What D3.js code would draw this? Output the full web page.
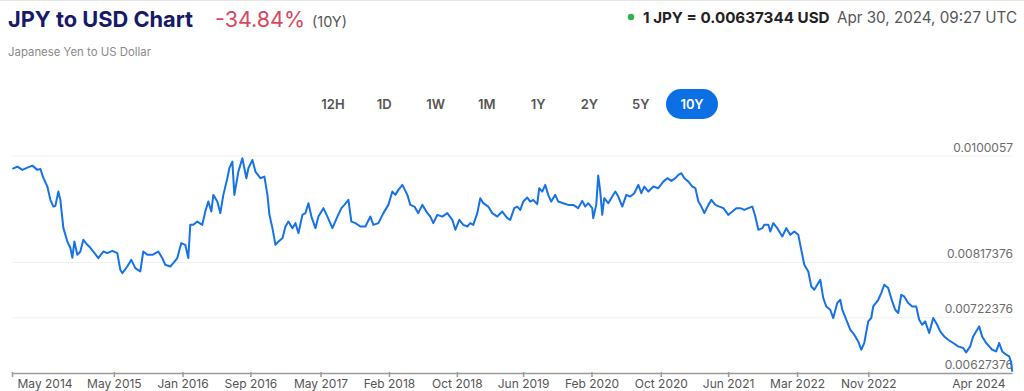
<!DOCTYPE html>
<html>
<head>
<meta charset="utf-8">
<script src="https://cdn.jsdelivr.net/npm/d3@7"></script>
<style>
  body { margin: 0; background: #fff; }
  svg { display: block; font-family: Inter, "Noto Sans", sans-serif; }
  .ylab { fill: #6b6b6b; font-size: 12px; }
  .xaxis text { fill: #555; font-size: 12px; font-family: Inter, "Noto Sans", sans-serif; }
  .xaxis path, .xaxis line { stroke: #9a9a9a; stroke-width: 1.5; }
</style>
</head>
<body>
<div id="chart"></div>
<script>
// JPY -> USD, 10 years (time as decimal year)
var years = [
  2014.33, 2014.38, 2014.43, 2014.48, 2014.53, 2014.58, 2014.61, 2014.64, 2014.68, 2014.71,
  2014.74, 2014.76, 2014.79, 2014.81, 2014.84, 2014.88, 2014.91, 2014.93, 2014.95, 2014.98,
  2015.01, 2015.04, 2015.08, 2015.11, 2015.14, 2015.19, 2015.24, 2015.28, 2015.33, 2015.38,
  2015.41, 2015.43, 2015.48, 2015.52, 2015.56, 2015.61, 2015.64, 2015.68, 2015.73, 2015.79,
  2015.83, 2015.86, 2015.91, 2015.94, 2015.98, 2016.02, 2016.06, 2016.09, 2016.11, 2016.14,
  2016.18, 2016.23, 2016.26, 2016.29, 2016.32, 2016.34, 2016.38, 2016.41, 2016.44, 2016.48,
  2016.50, 2016.53, 2016.55, 2016.59, 2016.63, 2016.67, 2016.69, 2016.73, 2016.76, 2016.81,
  2016.85, 2016.88, 2016.90, 2016.93, 2016.96, 2016.99, 2017.03, 2017.06, 2017.09, 2017.13,
  2017.16, 2017.19, 2017.23, 2017.26, 2017.29, 2017.32, 2017.36, 2017.39, 2017.44, 2017.48,
  2017.53, 2017.58, 2017.62, 2017.65, 2017.69, 2017.72, 2017.76, 2017.81, 2017.86, 2017.91,
  2017.94, 2017.99, 2018.04, 2018.09, 2018.13, 2018.16, 2018.19, 2018.23, 2018.28, 2018.31,
  2018.35, 2018.39, 2018.43, 2018.47, 2018.51, 2018.54, 2018.58, 2018.63, 2018.68, 2018.73,
  2018.76, 2018.80, 2018.84, 2018.88, 2018.91, 2018.94, 2018.98, 2019.01, 2019.04, 2019.09,
  2019.13, 2019.18, 2019.23, 2019.28, 2019.31, 2019.35, 2019.38, 2019.41, 2019.44, 2019.48,
  2019.51, 2019.54, 2019.58, 2019.60, 2019.63, 2019.66, 2019.69, 2019.72, 2019.76, 2019.79,
  2019.84, 2019.89, 2019.94, 2019.99, 2020.03, 2020.06, 2020.09, 2020.13, 2020.14, 2020.17,
  2020.19, 2020.21, 2020.23, 2020.25, 2020.29, 2020.33, 2020.36, 2020.39, 2020.43, 2020.47,
  2020.51, 2020.55, 2020.59, 2020.62, 2020.65, 2020.69, 2020.74, 2020.79, 2020.84, 2020.88,
  2020.92, 2020.96, 2020.99, 2021.02, 2021.05, 2021.09, 2021.13, 2021.16, 2021.19, 2021.22,
  2021.25, 2021.29, 2021.32, 2021.36, 2021.40, 2021.44, 2021.49, 2021.53, 2021.57, 2021.61,
  2021.65, 2021.69, 2021.73, 2021.76, 2021.79, 2021.83, 2021.85, 2021.89, 2021.91, 2021.94,
  2021.98, 2022.03, 2022.07, 2022.11, 2022.15, 2022.19, 2022.22, 2022.25, 2022.29, 2022.32,
  2022.35, 2022.38, 2022.41, 2022.44, 2022.47, 2022.51, 2022.54, 2022.58, 2022.61, 2022.63,
  2022.67, 2022.71, 2022.75, 2022.79, 2022.82, 2022.85, 2022.89, 2022.92, 2022.94, 2022.99,
  2023.02, 2023.05, 2023.09, 2023.13, 2023.16, 2023.19, 2023.22, 2023.25, 2023.29, 2023.33,
  2023.37, 2023.40, 2023.43, 2023.46, 2023.50, 2023.54, 2023.58, 2023.61, 2023.65, 2023.69,
  2023.74, 2023.79, 2023.84, 2023.87, 2023.91, 2023.94, 2023.98, 2024.00, 2024.03, 2024.07,
  2024.10, 2024.13, 2024.17, 2024.20, 2024.23, 2024.27, 2024.30, 2024.32, 2024.33
];

var rates = [
  0.009784, 0.009823, 0.009767, 0.009806, 0.009840, 0.009767, 0.009784, 0.009629, 0.009480, 0.009251,
  0.009136, 0.009148, 0.009394, 0.009251, 0.008770, 0.008535, 0.008427, 0.008255, 0.008535, 0.008306,
  0.008363, 0.008564, 0.008478, 0.008427, 0.008363, 0.008250, 0.008363, 0.008336, 0.008375, 0.008336,
  0.008049, 0.007992, 0.008105, 0.008220, 0.008078, 0.008019, 0.008363, 0.008306, 0.008306, 0.008363,
  0.008250, 0.008135, 0.008105, 0.008164, 0.008250, 0.008507, 0.008478, 0.008250, 0.008822, 0.008822,
  0.008878, 0.008822, 0.009050, 0.009222, 0.009050, 0.009337, 0.009222, 0.009023, 0.009337, 0.009624,
  0.009796, 0.009909, 0.009337, 0.009737, 0.009968, 0.009624, 0.009796, 0.009938, 0.009737, 0.009624,
  0.009651, 0.009337, 0.008994, 0.008765, 0.008478, 0.008535, 0.008593, 0.008793, 0.008878, 0.008765,
  0.008851, 0.008679, 0.008994, 0.009023, 0.009194, 0.008964, 0.008765, 0.008964, 0.009109, 0.008964,
  0.008765, 0.008964, 0.009109, 0.009165, 0.009251, 0.008878, 0.008851, 0.008793, 0.008793, 0.008964,
  0.008822, 0.008851, 0.009023, 0.009165, 0.009394, 0.009337, 0.009423, 0.009509, 0.009337, 0.009165,
  0.009136, 0.009023, 0.009165, 0.009050, 0.008964, 0.008851, 0.008994, 0.008964, 0.009023, 0.008908,
  0.008736, 0.008908, 0.008822, 0.008793, 0.008851, 0.008822, 0.009023, 0.009280, 0.009194, 0.009136,
  0.009023, 0.008964, 0.009050, 0.008937, 0.008908, 0.009109, 0.009136, 0.009079, 0.009222, 0.009291,
  0.009222, 0.009251, 0.009177, 0.009452, 0.009394, 0.009509, 0.009337, 0.009222, 0.009337, 0.009222,
  0.009194, 0.009165, 0.009165, 0.009109, 0.009234, 0.009136, 0.009194, 0.009109, 0.008937, 0.009165,
  0.009669, 0.009394, 0.008994, 0.009280, 0.009194, 0.009308, 0.009394, 0.009308, 0.009136, 0.009337,
  0.009308, 0.009366, 0.009509, 0.009366, 0.009480, 0.009394, 0.009480, 0.009452, 0.009565, 0.009624,
  0.009578, 0.009624, 0.009681, 0.009710, 0.009624, 0.009565, 0.009480, 0.009452, 0.009222, 0.009136,
  0.009023, 0.009165, 0.009251, 0.009165, 0.009136, 0.009109, 0.008994, 0.009050, 0.009109, 0.009109,
  0.009079, 0.009109, 0.009136, 0.008964, 0.008736, 0.008765, 0.008822, 0.008822, 0.008707, 0.008851,
  0.008765, 0.008621, 0.008765, 0.008650, 0.008707, 0.008650, 0.008392, 0.008135, 0.008019, 0.007762,
  0.007705, 0.007791, 0.007877, 0.007562, 0.007418, 0.007362, 0.007219, 0.007477, 0.007533, 0.007362,
  0.007190, 0.007018, 0.006932, 0.006817, 0.006674, 0.006789, 0.007161, 0.007219, 0.007418, 0.007533,
  0.007648, 0.007791, 0.007734, 0.007504, 0.007362, 0.007305, 0.007619, 0.007590, 0.007477, 0.007418,
  0.007418, 0.007190, 0.007104, 0.007161, 0.006961, 0.007219, 0.007104, 0.006989, 0.006903, 0.006846,
  0.006789, 0.006731, 0.006704, 0.006628, 0.006731, 0.006903, 0.007018, 0.007075, 0.006903, 0.006789,
  0.006731, 0.006674, 0.006645, 0.006789, 0.006645, 0.006588, 0.006559, 0.006446, 0.006296
];

var yTicks = [0.00627376, 0.00722376, 0.00817376, 0.0100057];
var yTickLabels = ["0.00627376", "0.00722376", "0.00817376", "0.0100057"];

var xTickDates = ["2014-04-30", "2015-05-07", "2016-01-13", "2016-09-17", "2017-05-31", "2018-02-05",
  "2018-10-11", "2019-06-10", "2020-02-15", "2020-10-25", "2021-06-28", "2022-03-07", "2022-11-22", "2024-04-30"];
var xTickLabels = ["May 2014", "May 2015", "Jan 2016", "Sep 2016", "May 2017", "Feb 2018",
  "Oct 2018", "Jun 2019", "Feb 2020", "Oct 2020", "Jun 2021", "Mar 2022", "Nov 2022", "Apr 2024"];

var ranges = ["12H", "1D", "1W", "1M", "1Y", "2Y", "5Y", "10Y"];
var activeRange = "10Y";

var svgWidth = 1024;
var svgHeight = 391;

var svg = d3.select("#chart")
    .append("svg")
    .attr("width", svgWidth)
    .attr("height", svgHeight);

// thin top border
svg.append("line")
    .attr("x1", 0).attr("x2", svgWidth)
    .attr("y1", 0.5).attr("y2", 0.5)
    .attr("stroke", "#e6e6e6");

// ---- header ----
svg.append("text")
    .attr("x", 8).attr("y", 27)
    .attr("font-size", 21.8).attr("font-weight", 700)
    .attr("fill", "#17196a")
    .text("JPY to USD Chart");

svg.append("text")
    .attr("x", 215).attr("y", 27)
    .attr("font-size", 21.5)
    .attr("fill", "#d9485f")
    .text("-34.84%");

svg.append("text")
    .attr("x", 312).attr("y", 27)
    .attr("font-size", 14.5)
    .attr("fill", "#555")
    .text("(10Y)");

svg.append("text")
    .attr("x", 8).attr("y", 56)
    .attr("font-size", 11.4)
    .attr("fill", "#8a8a8a")
    .text("Japanese Yen to US Dollar");

svg.append("circle")
    .attr("cx", 631).attr("cy", 17).attr("r", 3.2)
    .attr("fill", "#2eb24a");

svg.append("text")
    .attr("x", 643).attr("y", 23)
    .attr("font-size", 15.2).attr("font-weight", 700)
    .attr("fill", "#222")
    .text("1 JPY = 0.00637344 USD");

svg.append("text")
    .attr("x", 1017).attr("y", 23)
    .attr("text-anchor", "end")
    .attr("font-size", 15.2)
    .attr("fill", "#555")
    .text("Apr 30, 2024, 09:27 UTC");

// ---- range buttons ----
var btnX = d3.scalePoint().domain(ranges).range([333, 692]);

var btns = svg.append("g").selectAll("g")
    .data(ranges)
    .enter()
    .append("g")
    .attr("transform", d => `translate(${btnX(d)}, 104.5)`);

btns.filter(d => d === activeRange)
    .append("rect")
    .attr("x", -26).attr("y", -15.5)
    .attr("width", 52).attr("height", 30)
    .attr("rx", 15)
    .attr("fill", "#0c6fe4");

btns.append("text")
    .attr("text-anchor", "middle")
    .attr("dy", "0.35em")
    .attr("font-size", 13)
    .attr("font-weight", 600)
    .attr("fill", d => d === activeRange ? "#fff" : "#555")
    .text(d => d);

// ---- chart ----
var parseDay = d3.utcParse("%Y-%m-%d");

function yearToDate(y) {
  var yr = Math.floor(y);
  var start = Date.UTC(yr, 0, 1);
  var end = Date.UTC(yr + 1, 0, 1);
  return new Date(start + (y - yr) * (end - start));
}

var data = years.map((y, i) => ({ date: yearToDate(y), rate: rates[i] }));

var xScale = d3.scaleUtc()
    .domain([parseDay("2014-04-30"), parseDay("2024-04-30")])
    .range([12, 1012]);

var yScale = d3.scaleLinear()
    .domain([0.00627376, 0.0100057])
    .range([373, 156]);

// gridlines
svg.append("g")
    .selectAll("line")
    .data(yTicks.slice(1))
    .enter()
    .append("line")
    .attr("x1", 12).attr("x2", 1013)
    .attr("y1", d => yScale(d)).attr("y2", d => yScale(d))
    .attr("stroke", "#f0f0f0")
    .attr("stroke-width", 1);

// x axis
var tickDates = xTickDates.map(parseDay);
var xAxis = d3.axisBottom(xScale)
    .tickValues(tickDates)
    .tickFormat((d, i) => xTickLabels[i])
    .tickSizeInner(4)
    .tickSizeOuter(0)
    .tickPadding(2);

var xg = svg.append("g")
    .attr("class", "xaxis")
    .attr("transform", "translate(0, 373)")
    .call(xAxis);

xg.selectAll(".tick text")
    .attr("y", 6)
    .attr("dy", "0.71em")
    .attr("text-anchor", (d, i) => i === 0 ? "start" : (i === tickDates.length - 1 ? "end" : "middle"))
    .attr("dx", (d, i) => i === 0 ? 5 : (i === tickDates.length - 1 ? -7 : 0));

xg.selectAll(".tick line")
    .attr("y1", -1)
    .filter((d, i) => i === tickDates.length - 1)
    .remove();

// y labels on the right
svg.append("g")
    .selectAll("text")
    .data(yTicks)
    .enter()
    .append("text")
    .attr("class", "ylab")
    .attr("x", 1013)
    .attr("y", d => yScale(d) - 4.5)
    .attr("text-anchor", "end")
    .text((d, i) => yTickLabels[i]);

// the rate line
var line = d3.line()
    .x(d => xScale(d.date))
    .y(d => yScale(d.rate));

svg.append("path")
    .datum(data)
    .attr("fill", "none")
    .attr("stroke", "#1672e6")
    .attr("stroke-width", 2)
    .attr("stroke-linejoin", "round")
    .attr("d", line);
</script>
</body>
</html>
